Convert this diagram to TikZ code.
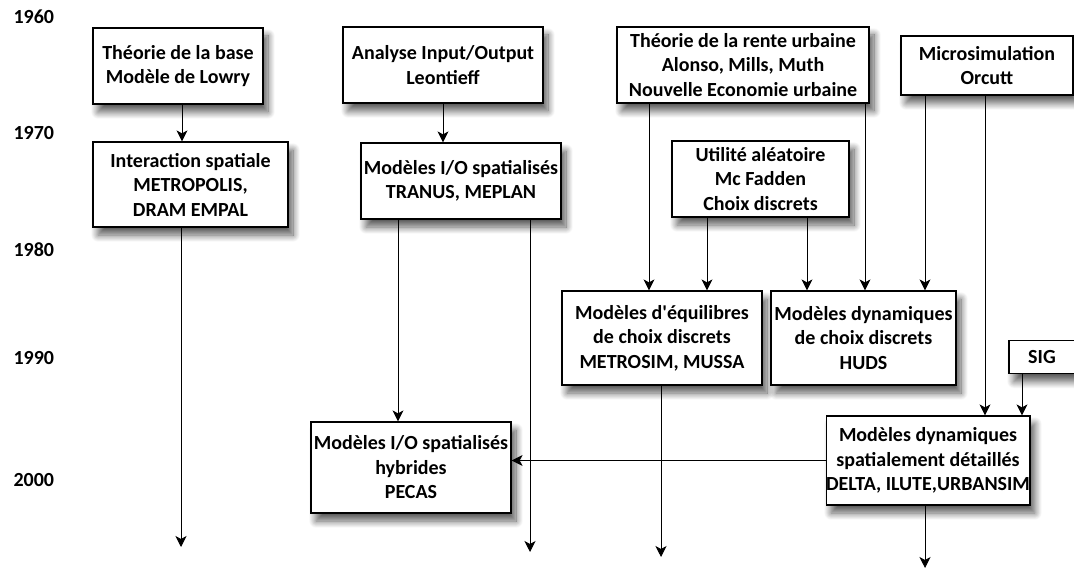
\documentclass[tikz,border=0pt]{standalone}
\usepackage{fontspec}
\setmainfont{Carlito}
\usetikzlibrary{arrows.meta, shadows.blur}

\begin{document}
\begin{tikzpicture}[x=1pt, y=-1pt, >={Stealth[length=11pt, width=11pt, inset=3pt]},
	font=\fontsize{20}{24.5}\selectfont\bfseries,
	box/.style={draw, line width=1.2pt, fill=white, align=center, inner sep=0pt,
		blur shadow={shadow xshift=5pt, shadow yshift=-8pt, shadow blur steps=12,
			shadow blur radius=7pt, shadow opacity=65}},
	year/.style={anchor=west},
	link/.style={->, line width=0.9pt}]
\useasboundingbox (0,0) rectangle (1074,569);
%========================
% time axis (years)
%========================
\node[year] (y60) at (10,17) {1960};
\node[year] (y70) at (10,133) {1970};
\node[year] (y80) at (10,250) {1980};
\node[year] (y90) at (10,358) {1990};
\node[year] (y00) at (10,480) {2000};

%========================
% boxes
%========================
\node[box, minimum width=170pt, minimum height=76pt] (lowry) at (178,66) {Théorie de la base\\Modèle de Lowry};
\node[box, minimum width=195pt, minimum height=85pt] (inter) at (190.5,184.5) {Interaction spatiale\\METROPOLIS,\\DRAM EMPAL};
\node[box, minimum width=200pt, minimum height=76pt] (leon) at (443,65) {Analyse Input/Output\\Leontieff};
\node[box, minimum width=200pt, minimum height=76pt] (iospat) at (461,181) {Modèles I/O spatialisés\\TRANUS, MEPLAN};
\node[box, minimum width=252pt, minimum height=76pt] (rente) at (743,65) {Théorie de la rente urbaine\\Alonso, Mills, Muth\\Nouvelle Economie urbaine};
\node[box, minimum width=177pt, minimum height=76pt] (util) at (760.5,179) {Utilité aléatoire\\Mc Fadden\\Choix discrets};
\node[box, minimum width=172pt, minimum height=59pt] (micro) at (987,65.5) {Microsimulation\\Orcutt};
\node[box, minimum width=200pt, minimum height=94pt] (equil) at (662,338) {Modèles d\textquotesingle équilibres\\de choix discrets\\METROSIM, MUSSA};
\node[box, minimum width=185pt, minimum height=94pt] (dyn) at (863.5,338) {Modèles dynamiques\\de choix discrets\\HUDS};
\node[box, minimum width=66pt, minimum height=33pt] (sig) at (1042,357) {SIG};
\node[box, minimum width=200pt, minimum height=89pt] (spat) at (928,460.5) {Modèles dynamiques\\spatialement détaillés\\DELTA, ILUTE,URBANSIM};
\node[box, minimum width=200pt, minimum height=91pt] (pecas) at (411,467.5) {Modèles I/O spatialisés\\hybrides\\PECAS};

% open ends of the time lines
\coordinate (endInter) at (181,547);
\coordinate (endIo) at (530,552);
\coordinate (endEquil) at (661,557);
\coordinate (endSpat) at (925,568);

%========================
% links
%========================
\draw[link] ([xshift=4pt]lowry.south) -- ([xshift=4pt]lowry.south |- inter.north);
\draw[link] (leon.south) -- (leon.south |- iospat.north);
\draw[link] (inter.south -| endInter) -- (endInter);
\draw[link] ([xshift=-63pt]iospat.south) -- ([xshift=-63pt]iospat.south |- pecas.north);
\draw[link] (iospat.south -| endIo) -- (endIo);
\draw[link] ([xshift=-94pt]rente.south) -- ([xshift=-94pt]rente.south |- equil.north);
\draw[link] ([xshift=122pt]rente.south) -- ([xshift=122pt]rente.south |- dyn.north);
\draw[link] ([xshift=-53.5pt]util.south) -- ([xshift=-53.5pt]util.south |- equil.north);
\draw[link] ([xshift=46.5pt]util.south) -- ([xshift=46.5pt]util.south |- dyn.north);
\draw[link] ([xshift=-62pt]micro.south) -- ([xshift=-62pt]micro.south |- dyn.north);
\draw[link] ([xshift=-2pt]micro.south) -- ([xshift=-2pt]micro.south |- spat.north);
\draw[link] ([xshift=-20pt]sig.south) -- ([xshift=-20pt]sig.south |- spat.north);
\draw[link] (spat.west) -- (spat.west -| pecas.east);
\draw[link] (equil.south -| endEquil) -- (endEquil);
\draw[link] (spat.south -| endSpat) -- (endSpat);
\end{tikzpicture}
\end{document}
